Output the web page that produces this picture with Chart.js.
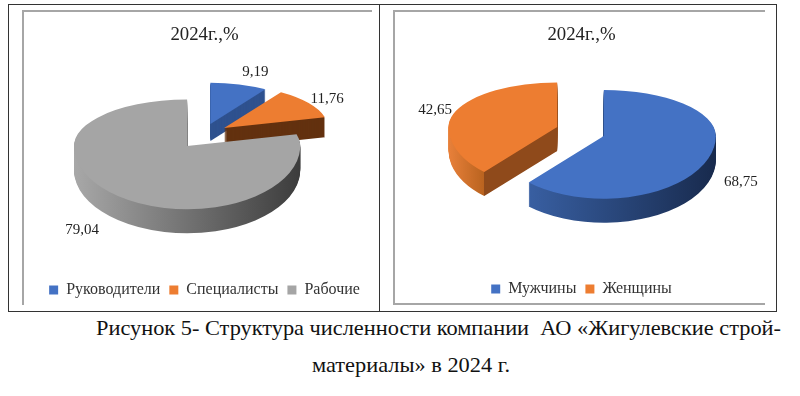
<!DOCTYPE html>
<html lang="ru">
<head>
<meta charset="utf-8">
<title>Структура численности</title>
<script src="https://cdn.jsdelivr.net/npm/chart.js@4"></script>
<style>
    html, body { margin: 0; padding: 0; background: #fff; }
    body { position: relative; width: 800px; height: 396px; overflow: hidden; font-family: "Liberation Serif", serif; color: #111; }
    .cell { position: absolute; box-sizing: border-box; border: 1.5px solid #333; }
    .inner { position: absolute; box-sizing: border-box; border: 0 solid #a6a6a6; }
    canvas { position: absolute; display: block; }
    .caption { position: absolute; white-space: pre; font-size: 21px; line-height: 24px; transform-origin: 0 50%; }
</style>
</head>
<body>
<div class="cell" style="left:8px;top:4px;width:372px;height:308px"></div>
<div class="cell" style="left:379px;top:4px;width:398px;height:308px"></div>
<div class="inner" style="left:22px;top:10px;width:350px;height:295px;border-left-width:2px;border-top-width:2px"></div>
<div class="inner" style="left:393px;top:10px;width:372px;height:295px;border-left-width:2px;border-top-width:2px;border-bottom-width:2px"></div>
<canvas id="chartStaff" width="348" height="297" style="left:24px;top:11px"></canvas>
<canvas id="chartGender" width="371" height="296" style="left:395px;top:11px"></canvas>
<div class="caption" id="cap1" style="left:96px;top:316px">Рисунок 5- Структура численности компании  АО «Жигулевские строй-</div>
<div class="caption" id="cap2" style="left:312px;top:353px">материалы» в 2024 г.</div>

<script>
const pieTitle = "2024г.,%";
const staffLabels = ["Руководители", "Специалисты", "Рабочие"];
const staffValues = [9.19, 11.76, 79.04];
const genderLabels = ["Мужчины", "Женщины"];
const genderValues = [68.75, 42.65];

const FONT = "'Liberation Serif', serif";
const BLUE = "#4472c4", ORANGE = "#ed7d31", GRAY = "#a5a5a5";

// наклон круга: задняя половина сжата сильнее передней
const K_BACK = 0.41, K_FRONT = 0.56;
const R = 112;

function tiltDraw(ctx, el, ax, ay, scale) {
    [[K_BACK, -300, 300.5], [K_FRONT, 0, 300]].forEach(function (part) {
        ctx.save();
        ctx.translate(ax, ay);
        ctx.beginPath();
        ctx.rect(-400, part[1], 800, part[2]);
        ctx.clip();
        ctx.scale(scale, part[0] * scale);
        ctx.translate(-el.x, -el.y);
        el.draw(ctx);
        ctx.restore();
    });
}

function copyWithFill(el, fill) {
    const opts = Object.assign({}, el.options, { backgroundColor: fill, borderWidth: 0 });
    return Object.create(el, { options: { value: opts } });
}

function sideFill(ctx, el, side) {
    if (typeof side === "string") return side;
    const g = ctx.createLinearGradient(el.x - el.outerRadius, 0, el.x + el.outerRadius, 0);
    side.forEach(function (s) { g.addColorStop(s[0], s[1]); });
    return g;
}

function pie3d(cfg) {
    function apex(el) {
        const mid = (el.startAngle + el.endAngle) / 2;
        const sy = Math.sin(mid);
        return {
            x: cfg.center[0] + Math.cos(mid) * cfg.explode,
            // целый y, иначе на стыке половин виден шов
            y: Math.round(cfg.center[1] + sy * cfg.explode * (sy < 0 ? K_BACK : K_FRONT))
        };
    }
    return {
        id: "pie3d",
        beforeDatasetDraw: function (chart) {
            const ctx = chart.ctx;
            const arcs = chart.getDatasetMeta(0).data;
            cfg.order.forEach(function (i) {
                const el = arcs[i];
                const p = apex(el);
                const scale = R * cfg.shrink[i] / el.outerRadius;
                const side = copyWithFill(el, sideFill(ctx, el, cfg.sides[i]));
                for (let d = cfg.depth[i]; d >= 1; d--) {
                    tiltDraw(ctx, side, p.x, p.y + d, scale);
                }
                tiltDraw(ctx, copyWithFill(el, el.options.backgroundColor), p.x, p.y, scale);
            });
            return false;
        },
        afterDatasetsDraw: function (chart) {
            const ctx = chart.ctx;
            const arcs = chart.getDatasetMeta(0).data;
            const values = chart.data.datasets[0].data;
            ctx.save();
            ctx.font = "15px " + FONT;
            ctx.fillStyle = "#222";
            ctx.textAlign = "center";
            ctx.textBaseline = "middle";
            arcs.forEach(function (el, i) {
                const p = apex(el);
                ctx.fillText(values[i].toFixed(2).replace(".", ","), p.x + cfg.labelShift[i][0], p.y + cfg.labelShift[i][1]);
            });
            ctx.restore();
        }
    };
}

function makePie(id, labels, values, colors, legendPad, cfg) {
    return new Chart(document.getElementById(id), {
        type: "pie",
        data: {
            labels: labels,
            datasets: [{ data: values, backgroundColor: colors, borderWidth: 0 }]
        },
        options: {
            responsive: false,
            animation: false,
            layout: { padding: { left: legendPad, right: 0 } },
            plugins: {
                tooltip: { enabled: false },
                title: {
                    display: true,
                    text: pieTitle,
                    color: "#222",
                    font: { family: FONT, size: 18.8, weight: "normal" },
                    padding: { top: 13, bottom: 6 }
                },
                legend: {
                    position: "bottom",
                    labels: {
                        boxWidth: 9,
                        boxHeight: 9,
                        padding: 9,
                        color: "#333",
                        font: { family: FONT, size: 16 }
                    }
                }
            }
        },
        plugins: [pie3d(cfg)]
    });
}

makePie("chartStaff", staffLabels, staffValues, [BLUE, ORANGE, GRAY], 13, {
    center: [179, 123],
    explode: 26,
    order: [0, 1, 2],
    depth: [17, 20, 24],
    shrink: [0.9, 0.93, 1.01],
    sides: ["#2f528f", "#63310f", [[0, "#a8a8a8"], [0.5, "#727272"], [1, "#3c3c3c"]]],
    labelShift: [[45, -52], [103, -29], [-105, 84]]
});

makePie("chartGender", genderLabels, genderValues, [BLUE, ORANGE], 2, {
    center: [185.5, 120],
    explode: 25,
    order: [1, 0],
    depth: [24, 24],
    shrink: [1, 0.97],
    sides: [
        [[0, "#3f69b2"], [0.5, "#2b4a80"], [1, "#182a4d"]],
        [[0, "#e8803a"], [0.165, "#b9631f"], [0.165, "#8f4a1b"], [1, "#8f4a1b"]]
    ],
    labelShift: [[137, 46], [-122, -17]]
});

// подпись растянута под ширину строки в оригинале
[["cap1", 685], ["cap2", 198]].forEach(function (c) {
    const el = document.getElementById(c[0]);
    el.style.transform = "scaleX(" + (c[1] / el.getBoundingClientRect().width) + ")";
});
</script>
</body>
</html>
